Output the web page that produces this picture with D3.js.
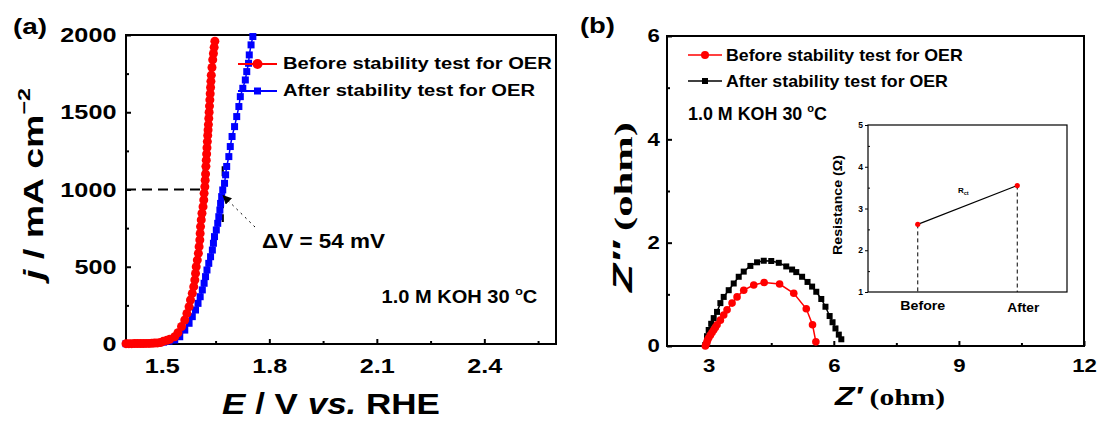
<!DOCTYPE html>
<html lang="en">
<head>
<meta charset="UTF-8">
<title>OER stability</title>
<script src="https://d3js.org/d3.v7.min.js"></script>
<style>
  body { margin: 0; background: #fff; }
  svg { display: block; }
</style>
</head>
<body>
<script>
// (a) polarization curves, E (V vs RHE) and j (mA cm-2)
var beforeE = [1.400, 1.408, 1.416, 1.424, 1.432, 1.440, 1.448, 1.456, 1.464, 1.472, 1.480, 1.488, 1.496,
  1.504, 1.514, 1.522, 1.536, 1.545, 1.555, 1.564, 1.570, 1.576, 1.580, 1.585, 1.589, 1.592, 1.594, 1.596,
  1.599, 1.602, 1.604, 1.606, 1.607, 1.608, 1.610, 1.612, 1.615, 1.617, 1.618, 1.620, 1.621, 1.622, 1.623,
  1.624, 1.625, 1.626, 1.627, 1.628, 1.629, 1.630, 1.631, 1.632, 1.633, 1.634, 1.635, 1.636, 1.637, 1.638,
  1.640, 1.642, 1.644, 1.646, 1.648];
var beforeJ = [2, 2, 2, 3, 3, 3, 3, 4, 4, 5, 6, 7, 9,
  17, 24, 30, 47, 73, 113, 155, 198, 241, 285, 328, 371, 414, 457, 500,
  543, 587, 630, 673, 716, 760, 803, 846, 889, 932, 975, 1018, 1060, 1100, 1150,
  1190, 1230, 1270, 1310, 1350, 1385, 1420, 1460, 1500, 1540, 1580, 1620, 1660, 1700, 1740,
  1790, 1840, 1880, 1920, 1960, 2000];
var afterE = [1.400, 1.408, 1.416, 1.424, 1.432, 1.440, 1.448, 1.456, 1.464, 1.472, 1.480, 1.488, 1.496,
  1.505, 1.520, 1.536, 1.550, 1.564, 1.576, 1.585, 1.594, 1.601, 1.607, 1.613, 1.618, 1.622, 1.626, 1.631,
  1.636, 1.641, 1.644, 1.647, 1.652, 1.656, 1.659, 1.662, 1.664, 1.667, 1.670, 1.675, 1.678, 1.681, 1.687,
  1.691, 1.696, 1.703, 1.709, 1.715, 1.719, 1.726, 1.733, 1.737, 1.742, 1.744, 1.749, 1.754];
var afterJ = [2, 2, 2, 3, 3, 3, 3, 4, 4, 5, 6, 7, 9,
  12, 18, 26, 47, 90, 134, 177, 220, 263, 306, 350, 393, 436, 479, 522,
  565, 608, 652, 695, 738, 781, 824, 867, 910, 954, 997, 1040, 1095, 1149, 1213,
  1278, 1343, 1407, 1472, 1537, 1601, 1655, 1709, 1763, 1817, 1871, 1936, 1990];
var xTicksA = [1.5, 1.8, 2.1, 2.4], xMinorA = [1.65, 1.95, 2.25, 2.55];
var yTicksA = [0, 500, 1000, 1500, 2000], yMinorA = [250, 750, 1250, 1750];
var deltaE = [1.617, 1.670];        // E at 1000 mA cm-2, before / after
var deltaLabel = "\u0394V = 54 mV";

// (b) Nyquist plots, Z' and -Z'' (ohm)
var beforeZr = [2.92, 2.94, 2.96, 2.975, 3.00, 3.04, 3.08, 3.12, 3.16, 3.20, 3.28, 3.36, 3.44, 3.56, 3.68,
  3.84, 4.08, 4.33, 4.70, 5.04, 5.34, 5.49, 5.57];
var beforeZi = [0.00, 0.04, 0.08, 0.12, 0.16, 0.21, 0.26, 0.31, 0.36, 0.41, 0.50, 0.60, 0.70, 0.83, 0.95,
  1.08, 1.18, 1.23, 1.20, 1.02, 0.72, 0.41, 0.08];
var afterZr = [2.92, 2.96, 3.00, 3.06, 3.12, 3.20, 3.28, 3.36, 3.48, 3.60, 3.72, 3.84, 4.00, 4.16, 4.32,
  4.50, 4.68, 4.86, 5.00, 5.10, 5.24, 5.37, 5.48, 5.58, 5.70, 5.80, 5.90, 5.97, 6.04, 6.12, 6.18];
var afterZi = [0.02, 0.19, 0.31, 0.43, 0.54, 0.66, 0.83, 0.95, 1.08, 1.21, 1.34, 1.44, 1.55, 1.62, 1.65,
  1.645, 1.61, 1.54, 1.48, 1.43, 1.34, 1.24, 1.15, 1.05, 0.91, 0.76, 0.58, 0.46, 0.34, 0.22, 0.13];
var xTicksB = [3, 6, 9, 12], xMinorB = [4.5, 7.5, 10.5];
var yTicksB = [0, 2, 4, 6], yMinorB = [1, 3, 5];

// inset: charge transfer resistance
var insetCats = ["Before", "After"];
var insetRct = [2.62, 3.55];
var insetTicks = [1, 2, 3, 4, 5], insetMinor = [1.5, 2.5, 3.5, 4.5];

var legendLabels = ["Before stability test for OER", "After stability test for OER"];

var SANS = "'Liberation Sans', Arial, sans-serif", SERIF = "'Liberation Serif', 'Times New Roman', serif";
var width = 1100, height = 423;
var svg = d3.select('body').append('svg')
    .attr('width', width).attr('height', height)
    .attr('font-family', SANS).attr('font-weight', 'bold');

svg.append('defs').append('marker')
    .attr('id', 'arr').attr('viewBox', '0 0 10 10').attr('refX', 9).attr('refY', 5)
    .attr('markerWidth', 9).attr('markerHeight', 9).attr('markerUnits', 'userSpaceOnUse')
    .attr('orient', 'auto')
    .append('path').attr('d', 'M0,0L10,5L0,10z').attr('fill', '#000');

var xA = d3.scaleLinear().domain([1.4, 2.6]).range([126, 556]);
var yA = d3.scaleLinear().domain([0, 2000]).range([344, 35]);
var xB = d3.scaleLinear().domain([2, 12]).range([667, 1084]);
var yB = d3.scaleLinear().domain([0, 6]).range([346, 36]);

// text helpers: a label is placed in a group, then stretched to the width seen in the picture
function txt(x, y, size, anchor, rot) {
    var g = svg.append('g').attr('transform', 'translate(' + x + ',' + y + ')' + (rot ? ' rotate(' + rot + ')' : ''));
    return g.append('text').attr('font-size', size).attr('text-anchor', anchor || 'start');
}
function fit(t, w) {
    var len = t.node().getComputedTextLength();
    t.attr('transform', 'scale(' + (w / len) + ',1)');
    return w / len;
}

function axes(x, y, xt, xm, yt, ym, fs, xfmt, yfmt, xpad, ypad, tl, sw) {
    var y0 = y.range()[0], x0 = x.range()[0];
    var gs = [];
    gs.push(svg.append('g').attr('transform', 'translate(0,' + y0 + ')')
        .call(d3.axisBottom(x).tickValues(xt).tickSizeInner(-tl).tickSizeOuter(0).tickPadding(xpad).tickFormat(xfmt)));
    gs.push(svg.append('g').attr('transform', 'translate(0,' + y0 + ')')
        .call(d3.axisBottom(x).tickValues(xm).tickSizeInner(-tl * 0.6).tickSizeOuter(0).tickFormat('')));
    gs.push(svg.append('g').attr('transform', 'translate(' + x0 + ',0)')
        .call(d3.axisLeft(y).tickValues(yt).tickSizeInner(-tl).tickSizeOuter(0).tickPadding(ypad).tickFormat(yfmt)));
    gs.push(svg.append('g').attr('transform', 'translate(' + x0 + ',0)')
        .call(d3.axisLeft(y).tickValues(ym).tickSizeInner(-tl * 0.6).tickSizeOuter(0).tickFormat('')));
    gs.forEach(function (g) {
        g.select('.domain').remove();
        g.attr('font-size', fs).attr('font-family', null);
        g.selectAll('line').attr('stroke-width', sw);
        g.selectAll('text').attr('fill', '#000').attr('transform', 'scale(1.2,1)');
    });
    svg.append('rect')
        .attr('x', x0).attr('y', y.range()[1])
        .attr('width', x.range()[1] - x0).attr('height', y0 - y.range()[1])
        .attr('fill', 'none').attr('stroke', '#000').attr('stroke-width', sw);
}

function series(x, y, xs, ys, color, shape, size, lw) {
    var pts = d3.zip(xs, ys);
    svg.append('path').datum(pts)
        .attr('fill', 'none').attr('stroke', color).attr('stroke-width', lw)
        .attr('d', d3.line().x(function (d) { return x(d[0]); }).y(function (d) { return y(d[1]); }));
    if (shape === 'circle') {
        svg.append('g').selectAll('circle').data(pts).join('circle')
            .attr('cx', function (d) { return x(d[0]); }).attr('cy', function (d) { return y(d[1]); })
            .attr('r', size).attr('fill', color);
    } else {
        svg.append('g').selectAll('rect').data(pts).join('rect')
            .attr('x', function (d) { return x(d[0]) - size / 2; }).attr('y', function (d) { return y(d[1]) - size / 2; })
            .attr('width', size).attr('height', size).attr('fill', color);
    }
}

function legendRow(x1, x2, y, color, shape, size, lw) {
    svg.append('line').attr('x1', x1).attr('x2', x2).attr('y1', y).attr('y2', y)
        .attr('stroke', color).attr('stroke-width', lw);
    var cx = (x1 + x2) / 2;
    if (shape === 'circle') svg.append('circle').attr('cx', cx).attr('cy', y).attr('r', size).attr('fill', color);
    else svg.append('rect').attr('x', cx - size / 2).attr('y', y - size / 2).attr('width', size).attr('height', size).attr('fill', color);
}

function koh(t) {
    t.text('1.0 M KOH 30 ');
    t.append('tspan').attr('font-size', '0.62em').attr('dy', '-0.75em').text('o');
    t.append('tspan').attr('dy', '0.47em').text('C');
}

// ---------- panel (a) ----------
axes(xA, yA, xTicksA, xMinorA, yTicksA, yMinorA, 21, d3.format('.1f'), d3.format('d'), 14, 8, 5, 2);

// annotation of the overpotential shift at 1000 mA cm-2
svg.append('line')
    .attr('x1', xA(1.4)).attr('x2', xA(deltaE[0])).attr('y1', yA(1000)).attr('y2', yA(1000))
    .attr('stroke', '#000').attr('stroke-width', 2.2).attr('stroke-dasharray', '10,6');
deltaE.forEach(function (e) {
    svg.append('line')
        .attr('x1', xA(e)).attr('x2', xA(e)).attr('y1', yA(1150)).attr('y2', yA(790))
        .attr('stroke', '#000').attr('stroke-width', 2.2).attr('stroke-dasharray', '10,6');
});

series(xA, yA, afterE, afterJ, '#0000ff', 'rect', 7, 1.5);
series(xA, yA, beforeE, beforeJ, '#ff0000', 'circle', 4.5, 1.5);

svg.append('line')
    .attr('x1', xA(1.760)).attr('y1', yA(757)).attr('x2', xA(1.671)).attr('y2', yA(960))
    .attr('stroke', '#000').attr('stroke-width', 1).attr('stroke-dasharray', '2,4')
    .attr('marker-end', 'url(#arr)');
fit(txt(xA(1.7796), yA(621), 20).text(deltaLabel), 123);

fit(txt(xA(2.113), yA(264), 18).call(koh), 156);

legendRow(238, 277, 64, '#ff0000', 'circle', 5, 2);
legendRow(238, 277, 91, '#0000ff', 'rect', 7, 2);
var sl = fit(txt(283, 69, 17).text(legendLabels[0]), 269);
txt(283, 96, 17).text(legendLabels[1]).attr('transform', 'scale(' + sl + ',1)');

// axis titles (a)
var tx = txt(331, 414, 30, 'middle');
tx.append('tspan').attr('font-style', 'italic').text('E');
tx.append('tspan').text(' / V ');
tx.append('tspan').attr('font-style', 'italic').text('vs.');
tx.append('tspan').text(' RHE');
fit(tx, 218);

var ty = txt(43, 184, 27, 'middle', -90);
ty.append('tspan').attr('font-style', 'italic').text('j');
ty.append('tspan').text(' / mA cm');
ty.append('tspan').attr('font-size', '0.62em').attr('dy', '-0.8em').text('\u22122');
fit(ty, 192);

fit(txt(13, 34, 22).text('(a)'), 34);

// ---------- panel (b) ----------
axes(xB, yB, xTicksB, xMinorB, yTicksB, yMinorB, 18.5, d3.format('d'), d3.format('d'), 13, 6, 5, 2);

series(xB, yB, afterZr, afterZi, '#000000', 'rect', 6, 1.5);
series(xB, yB, beforeZr, beforeZi, '#ff0000', 'circle', 3.8, 1.5);

legendRow(688, 722, 55, '#ff0000', 'circle', 4, 1.5);
legendRow(688, 722, 81, '#000000', 'rect', 6, 1.5);
var sr = fit(txt(726, 61, 16).text(legendLabels[0]), 237);
txt(726, 87, 16).text(legendLabels[1]).attr('transform', 'scale(' + sr + ',1)');

fit(txt(688, 120, 17.5).call(koh), 139);

var bx = txt(890, 405, 26, 'middle');
bx.append('tspan').attr('font-style', 'italic').text('Z\u2032');
bx.append('tspan').attr('font-family', SERIF).attr('font-size', 24).text(' (ohm)');
fit(bx, 110);

var by = txt(632, 207, 27, 'middle', -90);
by.append('tspan').attr('font-style', 'italic').text('Z\u2032\u2032');
by.append('tspan').attr('font-family', SERIF).attr('font-size', 25).text(' (ohm)');
fit(by, 170);

fit(txt(580, 33, 22).text('(b)'), 35);

// ---------- inset ----------
var xI = d3.scalePoint().domain(insetCats).range([868, 1067]).padding(0.5);
var yI = d3.scaleLinear().domain([1, 5]).range([292, 125]);

svg.append('rect').attr('x', 868).attr('y', 125).attr('width', 199).attr('height', 167)
    .attr('fill', '#fff').attr('stroke', '#000').attr('stroke-width', 1.2);
var gi = svg.append('g').attr('transform', 'translate(868,0)')
    .call(d3.axisLeft(yI).tickValues(insetTicks).tickSizeInner(3).tickSizeOuter(0).tickPadding(2).tickFormat(d3.format('d')));
var gim = svg.append('g').attr('transform', 'translate(868,0)')
    .call(d3.axisLeft(yI).tickValues(insetMinor).tickSizeInner(-2).tickSizeOuter(0).tickFormat(''));
[gi, gim].forEach(function (g) {
    g.select('.domain').remove();
    g.attr('font-size', 8.5).attr('font-family', null);
    g.selectAll('text').attr('fill', '#000');
});

var ipts = d3.zip(insetCats, insetRct);
svg.append('g').selectAll('line').data(ipts).join('line')
    .attr('x1', function (d) { return xI(d[0]); }).attr('x2', function (d) { return xI(d[0]); })
    .attr('y1', function (d) { return yI(d[1]); }).attr('y2', yI(1))
    .attr('stroke', '#000').attr('stroke-width', 1).attr('stroke-dasharray', '4,3');
svg.append('path').datum(ipts)
    .attr('fill', 'none').attr('stroke', '#000').attr('stroke-width', 1.2)
    .attr('d', d3.line().x(function (d) { return xI(d[0]); }).y(function (d) { return yI(d[1]); }));
svg.append('g').selectAll('circle').data(ipts).join('circle')
    .attr('cx', function (d) { return xI(d[0]); }).attr('cy', function (d) { return yI(d[1]); })
    .attr('r', 2.6).attr('fill', '#ff0000');

fit(txt(xI('Before') + 5, 310, 13, 'middle').text('Before'), 45);
fit(txt(xI('After') + 6, 312, 13, 'middle').text('After'), 32);

var rl = txt(842, 205, 12, 'middle', -90).text('Resistance (\u03A9)');
fit(rl, 100);

var rc = txt(958, 193, 8);
rc.append('tspan').text('R');
rc.append('tspan').attr('font-size', 5.5).attr('dy', 2).text('ct');
</script>
</body>
</html>
